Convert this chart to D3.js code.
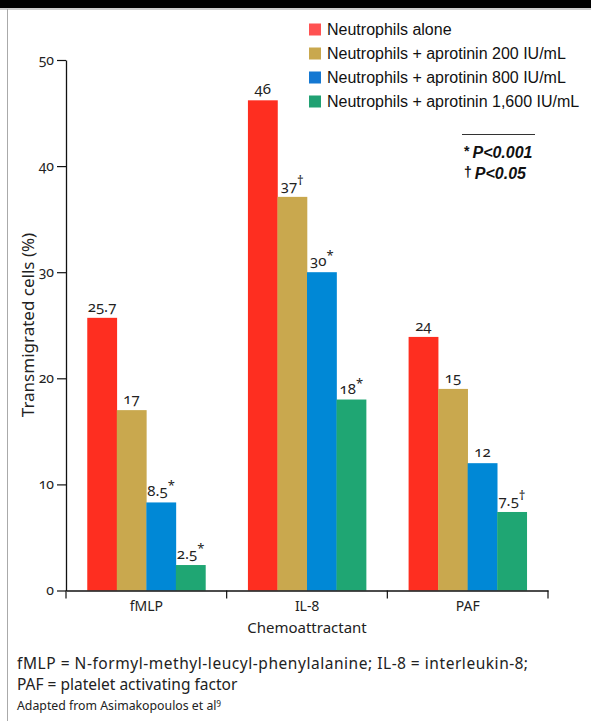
<!DOCTYPE html>
<html>
<head>
<meta charset="utf-8">
<script src="https://cdn.jsdelivr.net/npm/d3@7"></script>
<style>
  body { margin: 0; background: #fff; }
  svg { display: block; }
  .hum { font-family: "Noto Sans", "Open Sans", sans-serif; font-feature-settings: "onum"; fill: #222; }
  .helv { font-family: "Liberation Sans", Arial, sans-serif; fill: #111; }
</style>
</head>
<body>
<div id="chart"></div>
<script>
// chart data
const categories = ["fMLP", "IL-8", "PAF"];
const seriesNames = [
  "Neutrophils alone",
  "Neutrophils + aprotinin 200 IU/mL",
  "Neutrophils + aprotinin 800 IU/mL",
  "Neutrophils + aprotinin 1,600 IU/mL"
];
// bar heights as drawn (per category, one value per series)
const fmlpValues = [25.7, 17, 8.3, 2.4];
const il8Values = [46.2, 37.1, 30, 18];
const pafValues = [23.9, 19, 12, 7.4];
// printed labels and significance marks
const fmlpLabels = ["25.7", "17", "8.5", "2.5"];
const il8Labels = ["46", "37", "30", "18"];
const pafLabels = ["24", "15", "12", "7.5"];
const fmlpMarks = ["", "", "*", "*"];
const il8Marks = ["", "†", "*", "*"];
const pafMarks = ["", "", "", "†"];
const yTicks = [0, 10, 20, 30, 40, 50];

const barColors = ["#fe2e20", "#c9a84e", "#0088d6", "#1fa673"];
const legendColors = ["#ff5252", "#c9a84e", "#1478d2", "#21a173"];

const rows = [
  { cat: "fMLP", values: fmlpValues, labels: fmlpLabels, marks: fmlpMarks },
  { cat: "IL-8", values: il8Values, labels: il8Labels, marks: il8Marks },
  { cat: "PAF", values: pafValues, labels: pafLabels, marks: pafMarks }
];

const width = 591, height = 721;
const svg = d3.select("#chart").append("svg")
  .attr("width", width)
  .attr("height", height);

// frame: thick top rule and thin left rule
svg.append("rect").attr("x", 0).attr("y", 0).attr("width", width).attr("height", 8).attr("fill", "#000");
svg.append("line").attr("x1", 0).attr("x2", width).attr("y1", 9).attr("y2", 9)
  .attr("stroke", "#999").attr("stroke-width", 1);
svg.append("line").attr("x1", 7.5).attr("x2", 7.5).attr("y1", 9).attr("y2", height)
  .attr("stroke", "#aaa").attr("stroke-width", 1);

const x0 = d3.scaleBand().domain(categories).range([66, 548]).padding(0);
const x1 = d3.scaleBand().domain(d3.range(seriesNames.length))
  .range([0, x0.bandwidth()]).paddingInner(0).paddingOuter(0.72);
const y = d3.scaleLinear().domain([0, 50]).range([590.5, 60]);

// bars
const groups = svg.append("g").selectAll("g")
  .data(rows)
  .enter().append("g")
  .attr("transform", d => `translate(${x0(d.cat)},0)`);

groups.selectAll("rect")
  .data(d => d.values.map((v, i) => ({ v, i })))
  .enter().append("rect")
  .attr("x", d => x1(d.i))
  .attr("width", x1.bandwidth() + 0.3)
  .attr("y", d => y(d.v))
  .attr("height", d => y(0) - y(d.v))
  .attr("fill", d => barColors[d.i]);

// value labels
const vl = groups.selectAll("text.val")
  .data(d => d.values.map((v, i) => ({ v, i, label: d.labels[i], mark: d.marks[i] })))
  .enter().append("text")
  .attr("class", "val hum")
  .attr("x", d => x1(d.i) + x1.bandwidth() / 2)
  .attr("y", d => y(d.v) - 6)
  .attr("text-anchor", "middle")
  .style("font-size", "15px");
vl.append("tspan").text(d => d.label);
vl.filter(d => d.mark).append("tspan")
  .attr("dy", -6)
  .style("font-size", "13px")
  .text(d => d.mark);

// y axis
const yAxis = svg.append("g")
  .attr("transform", "translate(66,0)")
  .call(d3.axisLeft(y).tickValues(yTicks).tickSize(9).tickSizeOuter(0).tickPadding(3));
yAxis.select(".domain").attr("stroke", "#111").attr("stroke-width", 1.3);
yAxis.selectAll(".tick line").attr("stroke", "#111").attr("stroke-width", 1.2);
yAxis.selectAll(".tick text").attr("class", "hum").style("font-size", "14px").attr("fill", "#222");

// x axis
const xAxis = svg.append("g")
  .attr("transform", `translate(0,${y(0)})`)
  .call(d3.axisBottom(x0).tickSize(0).tickSizeOuter(0).tickPadding(11));
xAxis.select(".domain").attr("stroke", "#111").attr("stroke-width", 1.3);
xAxis.selectAll(".tick text").attr("class", "hum").style("font-size", "14px").attr("fill", "#222");
xAxis.selectAll("line.sep")
  .data(categories.map(c => x0(c)).concat([x0.range()[1]]))
  .enter().append("line")
  .attr("class", "sep")
  .attr("x1", d => d).attr("x2", d => d)
  .attr("y1", 0).attr("y2", 8)
  .attr("stroke", "#111").attr("stroke-width", 1.2);

// axis titles
svg.append("text")
  .attr("class", "hum")
  .attr("x", (x0.range()[0] + x0.range()[1]) / 2)
  .attr("y", 633)
  .attr("text-anchor", "middle")
  .style("font-size", "15px")
  .text("Chemoattractant");

svg.append("text")
  .attr("class", "hum")
  .attr("transform", "translate(34,325) rotate(-90)")
  .attr("text-anchor", "middle")
  .style("font-size", "17px")
  .text("Transmigrated cells (%)");

// legend
const legend = svg.append("g").attr("transform", "translate(309,0)");
const li = legend.selectAll("g")
  .data(seriesNames)
  .enter().append("g")
  .attr("transform", (d, i) => `translate(0,${29.5 + i * 24})`);
li.append("rect")
  .attr("x", 0).attr("y", -6).attr("width", 12).attr("height", 12)
  .attr("fill", (d, i) => legendColors[i]);
li.append("text")
  .attr("class", "helv")
  .attr("x", 18).attr("y", 5.5)
  .style("font-size", "16px")
  .text(d => d);

// significance key
svg.append("line").attr("x1", 462).attr("x2", 535).attr("y1", 134.5).attr("y2", 134.5)
  .attr("stroke", "#333").attr("stroke-width", 1);
const keys = [["*", "P<0.001"], ["†", "P<0.05"]];
const kt = svg.selectAll("text.key")
  .data(keys)
  .enter().append("text")
  .attr("class", "key helv")
  .attr("x", 464)
  .attr("y", (d, i) => 158 + i * 21)
  .style("font-size", "16px")
  .style("font-weight", "bold");
kt.append("tspan").attr("dy", -2).style("font-size", "14px").text(d => d[0]);
kt.append("tspan").attr("dy", 2).attr("dx", 3).style("font-style", "italic").text(d => d[1]);

// footnotes
const notes = [
  "fMLP = N-formyl-methyl-leucyl-phenylalanine; IL-8 = interleukin-8;",
  "PAF = platelet activating factor"
];
const noteWidths = [511, null];
svg.selectAll("text.note")
  .data(notes)
  .enter().append("text")
  .attr("class", "note hum")
  .attr("x", 17)
  .attr("y", (d, i) => 669 + i * 21)
  .style("font-size", "15.5px")
  .each(function (d, i) {
    if (noteWidths[i]) d3.select(this).attr("textLength", noteWidths[i]).attr("lengthAdjust", "spacing");
  })
  .text(d => d);
const src = svg.append("text")
  .attr("class", "hum")
  .attr("x", 17).attr("y", 710)
  .style("font-size", "12.3px");
src.append("tspan").text("Adapted from Asimakopoulos et al");
src.append("tspan").attr("dy", -5).style("font-size", "8px").text("9");
</script>
</body>
</html>
